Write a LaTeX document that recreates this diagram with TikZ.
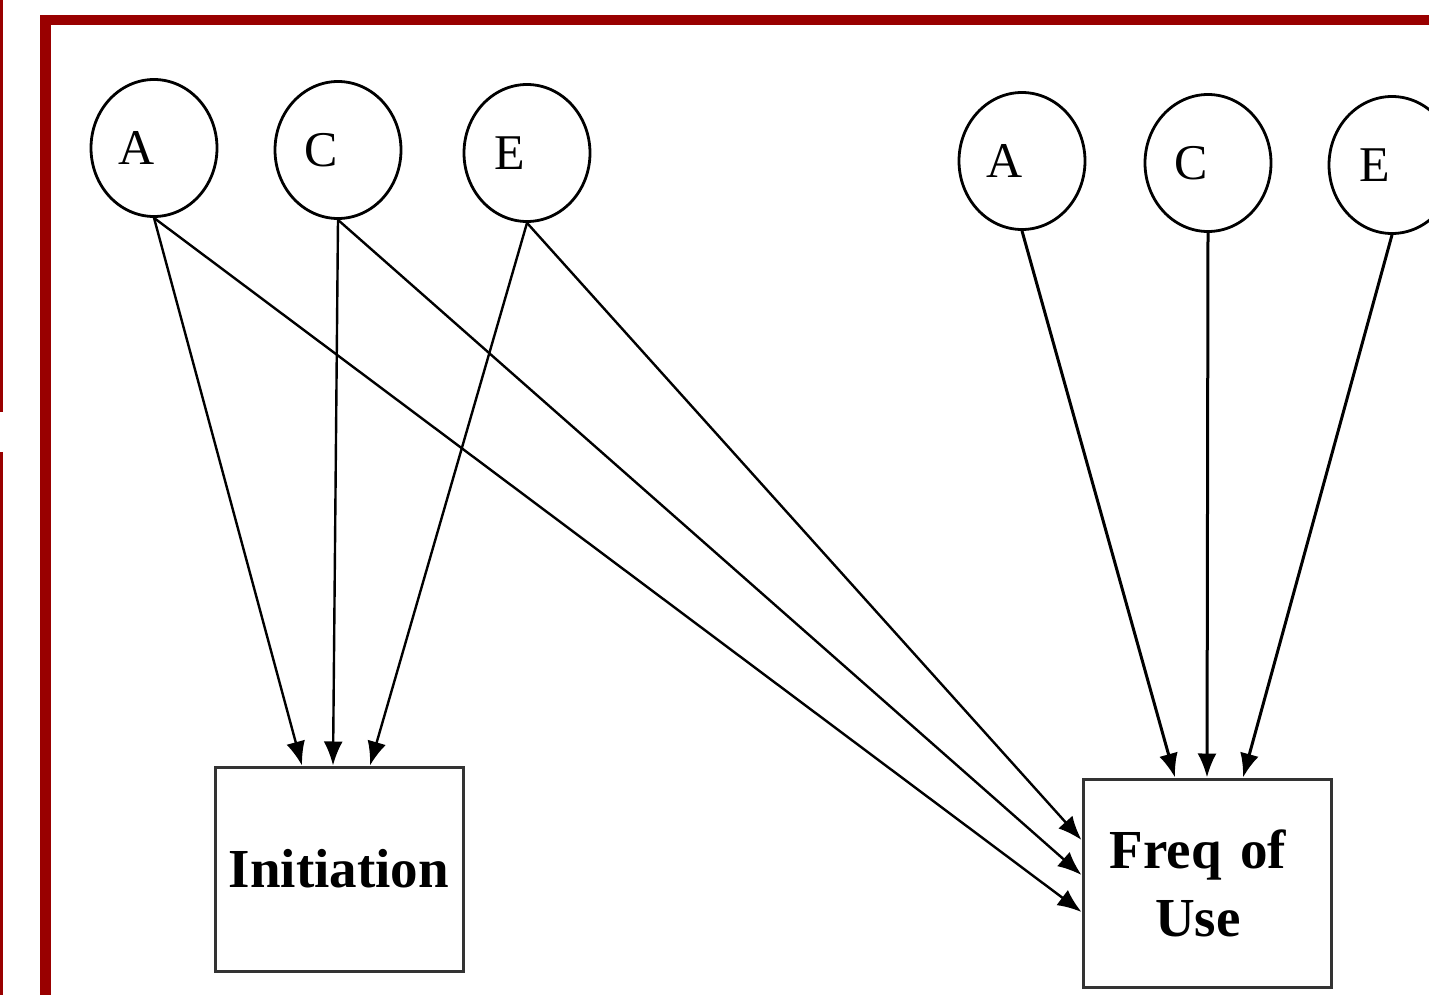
\documentclass[tikz,border=0pt]{standalone}
\usepackage{tikz}
\usetikzlibrary{calc}
\usetikzlibrary{arrows.meta,shapes.geometric,positioning}
\usepackage{fontspec}
\setmainfont{Liberation Serif}
\definecolor{darkred}{rgb}{0.6,0.0,0.0}

\begin{document}
\begin{tikzpicture}[x=0.5pt,y=-0.5pt,
  latent/.style={ellipse,draw,line width=1.4pt,minimum width=63pt,minimum height=68.5pt,
    inner sep=0pt,font=\fontsize{25}{25}\selectfont,execute at end node={\hspace*{17pt}}},
  observed/.style={rectangle,draw=black!80,line width=1.5pt,minimum width=124pt,
    minimum height=102pt,font=\bfseries\fontsize{27.5}{35}\selectfont,align=center},
  effect/.style={-{Latex[length=12pt,width=9.5pt]},line width=1.2pt}]
  \useasboundingbox (0,0) rectangle (1429,995);
  \clip (0,0) rectangle (1429,995);
  % frame
  \draw[darkred,line width=1.5pt] (1.5,0) -- (1.5,412) (1.5,452) -- (1.5,995);
  \draw[darkred,line width=5.25pt,line join=miter] (45.5,995) -- (45.5,20) -- (1429,20);
  % A C E for initiation
  \node[latent] (iA) at (154,148) {A};
  \node[latent] (iC) at (338,150) {C};
  \node[latent] (iE) at (527,153) {E};
  % A C E for frequency
  \node[latent] (fA) at (1022,161) {A};
  \node[latent] (fC) at (1208,163) {C};
  \node[latent] (fE) at (1392,165) {E};
  % outcomes
  \node[observed] (init) at (339,869) {Initiation};
  \node[observed,minimum height=104pt,inner xsep=0pt,text width=124pt] (freq) at (1207,883)
    {\hspace*{-9pt}Freq of\\[-1pt]\hspace*{-9pt}Use};
  % paths
  \draw[effect] (iA.south) -- ($(init.north)+(-37,0)$);
  \draw[effect] (iC.south) -- ($(init.north)+(-6,0)$);
  \draw[effect] (iE.south) -- ($(init.north)+(31,0)$);
  \draw[effect] (iA.south) -- ($(freq.west)+(0,29)$);
  \draw[effect] (iC.south) -- ($(freq.west)+(0,-8)$);
  \draw[effect] (iE.south) -- ($(freq.west)+(0,-43)$);
  \draw[effect,line width=1.5pt] (fA.south) -- ($(freq.north)+(-32,0)$);
  \draw[effect,line width=1.5pt] (fC.south) -- ($(freq.north)+(0,0)$);
  \draw[effect,line width=1.5pt] (fE.south) -- ($(freq.north)+(36,0)$);
\end{tikzpicture}
\end{document}
